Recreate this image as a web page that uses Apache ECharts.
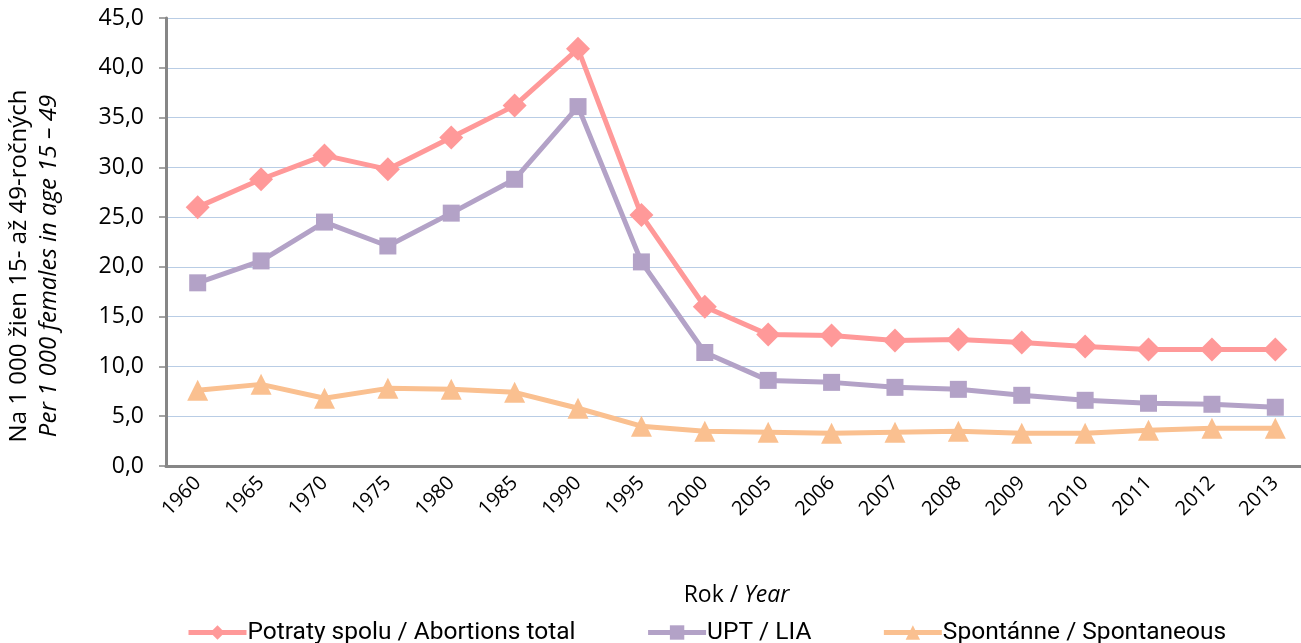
<!DOCTYPE html>
<html style="height: 100%">
<head>
    <meta charset="utf-8">
</head>
<body style="height: 100%; margin: 0; background: #fff">
<div id="container" style="width: 1301px; height: 643px"></div>
<script type="text/javascript" src="https://cdn.jsdelivr.net/npm/echarts@6/dist/echarts.min.js"></script>
<script type="text/javascript">
    var years = ['1960', '1965', '1970', '1975', '1980', '1985', '1990', '1995', '2000',
        '2005', '2006', '2007', '2008', '2009', '2010', '2011', '2012', '2013'];
    var total = [26.0, 28.8, 31.2, 29.8, 33.0, 36.2, 41.9, 25.2, 16.0,
        13.2, 13.1, 12.6, 12.7, 12.4, 12.0, 11.7, 11.7, 11.7];
    var upt = [18.4, 20.6, 24.5, 22.1, 25.4, 28.8, 36.1, 20.5, 11.4,
        8.6, 8.4, 7.9, 7.7, 7.1, 6.6, 6.3, 6.2, 5.9];
    var spont = [7.6, 8.2, 6.8, 7.8, 7.7, 7.4, 5.8, 4.0, 3.5,
        3.4, 3.3, 3.4, 3.5, 3.3, 3.3, 3.6, 3.8, 3.8];

    var names = ['Potraty spolu / Abortions total', 'UPT / LIA', 'Spontánne / Spontaneous'];
    var colors = ['#ff9999', '#b3a2c7', '#fac090'];

    var font = 'Open Sans';
    var dom = document.getElementById("container");
    var myChart = echarts.init(dom);

    function line(i, data, symbol, size) {
        return {
            name: names[i],
            type: 'line',
            data: data,
            symbol: symbol,
            symbolSize: size,
            color: colors[i],
            lineStyle: {width: 5, color: colors[i]},
            itemStyle: {color: colors[i]},
            animation: false
        };
    }

    var option = {
        grid: {left: 166, top: 18, bottom: 177, right: -6, containLabel: false, outerBoundsMode: 'none'},
        legend: {
            top: 615,
            left: 181,
            itemWidth: 58,
            itemHeight: 18,
            itemGap: 70,
            lineStyle: {width: 5},
            textStyle: {fontFamily: 'Roboto', fontSize: 24.5, color: '#000', padding: [0, 0, 0, -4]},
            data: names
        },
        xAxis: {
            type: 'category',
            data: years,
            name: '{a|Rok / }{b|Year}',
            nameLocation: 'middle',
            nameGap: 118,
            nameTextStyle: {
                rich: {
                    a: {fontFamily: font, fontSize: 23, color: '#000'},
                    b: {fontFamily: font, fontSize: 23, color: '#000', fontStyle: 'italic'}
                }
            },
            axisLine: {lineStyle: {color: '#868686', width: 3}},
            axisTick: {lineStyle: {color: '#868686', width: 1.5}, length: 6},
            axisLabel: {rotate: 45, margin: 14, fontFamily: font, fontSize: 20, color: '#000'}
        },
        yAxis: {
            type: 'value',
            min: 0,
            max: 45,
            interval: 5,
            name: '{a|Na 1 000 žien 15- až 49-ročných}\n{b|Per 1 000 females in age 15 – 49}',
            nameLocation: 'middle',
            nameRotate: 90,
            nameGap: 102,
            nameTextStyle: {
                padding: [0, 48, 0, 0],
                rich: {
                    a: {fontFamily: font, fontSize: 24, color: '#000', lineHeight: 30},
                    b: {fontFamily: font, fontSize: 24, color: '#000', fontStyle: 'italic', lineHeight: 30}
                }
            },
            axisLine: {show: true, lineStyle: {color: '#868686', width: 3}},
            axisTick: {show: true, lineStyle: {color: '#868686', width: 1.5}, length: 7},
            splitLine: {lineStyle: {color: '#b9cde5', width: 1.2}},
            axisLabel: {
                fontFamily: font, fontSize: 23, color: '#000', margin: 22,
                formatter: function (v) { return v.toFixed(1).replace('.', ','); }
            }
        },
        series: [
            line(0, total, 'diamond', 24),
            line(1, upt, 'rect', 17),
            line(2, spont, 'triangle', 21)
        ]
    };
    myChart.setOption(option);
</script>
</body>
</html>
